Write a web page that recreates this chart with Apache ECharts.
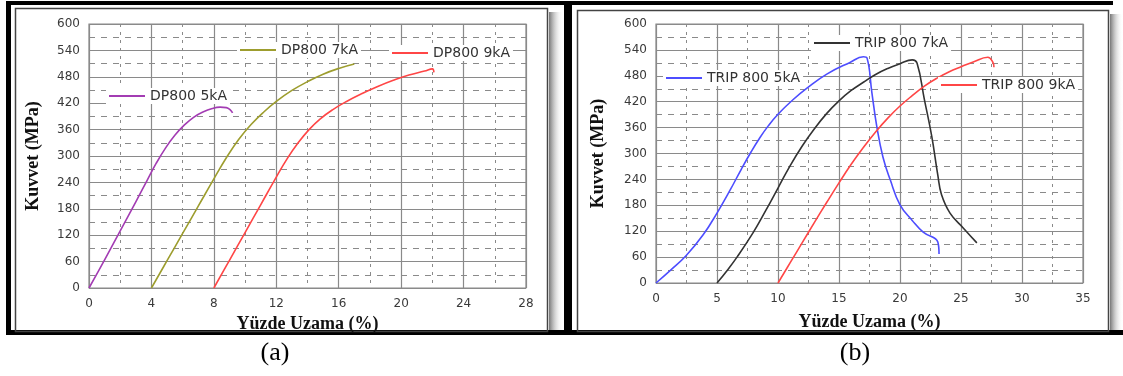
<!DOCTYPE html>
<html>
<head>
<meta charset="utf-8">
<script src="https://cdn.jsdelivr.net/npm/echarts@6/dist/echarts.min.js"></script>
<style>
	html, body { margin: 0; padding: 0; background: #fff; }
	#chart_box { width: 1123px; height: 376px; }
</style>
</head>
<body>
<div id="chart_box"></div>
<script>
/* (a) DP800 curves: [uzama %, kuvvet MPa] */
var dp800_5kA = [[0,0],[1,64],[2,130],[3,196],[3.7,243],[4.3,283],[4.9,318],[5.5,347],[6.1,370],[6.7,388],[7.3,400],[7.9,408],[8.4,411],[8.8,410],[9.05,405],[9.2,398]];
var dp800_7kA = [[4,0],[5,62],[6,124],[7,186],[8,248],[8.8,296],[9.6,338],[10.4,372],[11.2,400],[12,424],[13,449],[14,469],[15,486],[16,499],[17,509]];
var dp800_9kA = [[8,0],[9,63],[10,126],[11,189],[12,252],[12.7,294],[13.4,330],[14.1,360],[14.8,384],[15.6,405],[16.5,424],[17.5,442],[18.5,458],[19.5,472],[20.5,484],[21.5,493],[22,498],[22.1,490]];

/* (b) TRIP 800 curves */
var trip_5kA = [[0,0],[1.2,30],[2.46,63],[3.85,111],[5,162],[6.07,215],[7,264],[7.8,304],[8.5,336],[9.2,364],[10,391],[11.2,424],[12.4,452],[14,484],[15.9,511],[17,524],[17.3,521],[17.7,440],[18.1,362],[18.6,292],[19.2,239],[20,181],[21,145],[21.9,118],[23.1,95],[23.2,67]];
var trip_7kA = [[5,0],[5.8,28],[6.64,60],[7.95,116],[9,168],[10,220],[11,272],[12,318],[13,358],[14,393],[15,422],[16,446],[17,465],[18,483],[19,497],[20,508],[21,517],[21.4,509],[22,425],[22.6,340],[23.1,250],[23.4,205],[24.1,162],[25.2,127],[26.3,93]];
var trip_9kA = [[10,0],[11,47],[12,94],[13,141],[14,187],[15,232],[16,275],[17,314],[18,350],[19,382],[20,410],[21,434],[22,456],[23,474],[24,489],[25,501],[26,512],[27.2,523],[27.6,512],[27.7,500]];

/* eksen ayarlari */
var xRangeA = [0, 28, 4];
var xRangeB = [0, 35, 5];
var yRange = [0, 600, 60];
var namesA = ['DP800 5kA', 'DP800 7kA', 'DP800 9kA'];
var namesB = ['TRIP 800 5kA', 'TRIP 800 7kA', 'TRIP 800 9kA'];
var xTitle = 'Yüzde Uzama (%)';
var yTitle = 'Kuvvet (MPa)';
var captions = ['(a)', '(b)'];

var tickFont = { color: '#3a3a3a', fontFamily: 'DejaVu Sans', fontSize: 12 };
var titleFont = { color: '#111', fontFamily: 'Liberation Serif', fontWeight: 'bold', fontSize: 18 };

function makeX(idx, r, gap) {
	return {
		type: 'value', gridIndex: idx, min: r[0], max: r[1], interval: r[2],
		name: xTitle, nameLocation: 'middle', nameGap: gap, nameTextStyle: titleFont,
		axisLine: { show: false }, axisTick: { show: false },
		axisLabel: Object.assign({ margin: 10 }, tickFont),
		splitLine: { lineStyle: { color: '#8a8a8a', width: 1.2 } },
		minorTick: { show: false, splitNumber: 2 },
		minorSplitLine: { show: true, lineStyle: { color: '#8a8a8a', type: [3, 5], width: 1 } }
	};
}
function makeY(idx, gap) {
	return {
		type: 'value', gridIndex: idx, min: yRange[0], max: yRange[1], interval: yRange[2],
		name: yTitle, nameLocation: 'middle', nameGap: gap, nameTextStyle: titleFont,
		axisLine: { show: false }, axisTick: { show: false },
		axisLabel: Object.assign({ margin: 9 }, tickFont),
		splitLine: { lineStyle: { color: '#8a8a8a', width: 1.2 } },
		minorTick: { show: false, splitNumber: 2 },
		minorSplitLine: { show: true, lineStyle: { color: '#8a8a8a', type: [6, 6], width: 1 } }
	};
}
function makeLine(name, idx, data, color) {
	return {
		name: name, type: 'line', xAxisIndex: idx, yAxisIndex: idx,
		data: data, symbol: 'none', smooth: 0.45,
		lineStyle: { color: color, width: 1.6 }, itemStyle: { color: color }
	};
}
function makeLegend(name, left, top) {
	return {
		data: [name], left: left, top: top, icon: 'rect', itemWidth: 36, itemHeight: 2,
		padding: [1, 3], backgroundColor: '#fff', selectedMode: false,
		textStyle: { color: '#333', fontFamily: 'DejaVu Sans', fontSize: 14 }
	};
}

/* cerceveler */
function frames() {
	var g = [];
	var black = { fill: '#000' };
	g.push({ type: 'rect', shape: { x: 6, y: 1, width: 1107, height: 4 }, style: black });
	g.push({ type: 'rect', shape: { x: 6, y: 1, width: 5, height: 334 }, style: black });
	g.push({ type: 'rect', shape: { x: 6, y: 330, width: 1117, height: 5 }, style: black });
	g.push({ type: 'rect', shape: { x: 564, y: 1, width: 8, height: 334 }, style: black });
	var shade = new echarts.graphic.LinearGradient(0, 0, 1, 0, [
		{ offset: 0, color: '#777' }, { offset: 1, color: 'rgba(255,255,255,0)' }]);
	g.push({ type: 'rect', shape: { x: 549, y: 12, width: 14, height: 318 }, style: { fill: shade } });
	g.push({ type: 'rect', shape: { x: 1110, y: 14, width: 13, height: 316 }, style: { fill: shade } });
	g.push({ type: 'rect', shape: { x: 15.5, y: 8.5, width: 532, height: 323 }, style: { fill: 'none', stroke: '#444', lineWidth: 1.5 } });
	g.push({ type: 'rect', shape: { x: 577.5, y: 10.5, width: 531, height: 321 }, style: { fill: 'none', stroke: '#444', lineWidth: 1.5 } });
	g.push({ type: 'text', x: 275, y: 353, style: { text: captions[0], fill: '#000', font: '26px "Liberation Serif"', align: 'center', verticalAlign: 'middle' } });
	g.push({ type: 'text', x: 855, y: 353, style: { text: captions[1], fill: '#000', font: '26px "Liberation Serif"', align: 'center', verticalAlign: 'middle' } });
	return g;
}

var myChart = echarts.init(document.getElementById('chart_box'), null, { renderer: 'canvas' });
var option = {
	animation: false,
	backgroundColor: '#fff',
	grid: [
		{ left: 89, top: 24, width: 437, height: 264, show: true, borderColor: '#8a8a8a', borderWidth: 1.2 },
		{ left: 656, top: 24, width: 427, height: 259, show: true, borderColor: '#8a8a8a', borderWidth: 1.2 }
	],
	xAxis: [makeX(0, xRangeA, 26), makeX(1, xRangeB, 30)],
	yAxis: [makeY(0, 47), makeY(1, 49)],
	legend: [
		makeLegend(namesA[0], 106, 88),
		makeLegend(namesA[1], 237, 42),
		makeLegend(namesA[2], 389, 45),
		makeLegend(namesB[0], 663, 70),
		makeLegend(namesB[1], 811, 35),
		makeLegend(namesB[2], 938, 77)
	],
	series: [
		makeLine(namesA[0], 0, dp800_5kA, '#a33cb3'),
		makeLine(namesA[1], 0, dp800_7kA, '#9d9d2e'),
		makeLine(namesA[2], 0, dp800_9kA, '#ff4646'),
		makeLine(namesB[0], 1, trip_5kA, '#4d4dff'),
		makeLine(namesB[1], 1, trip_7kA, '#333333'),
		makeLine(namesB[2], 1, trip_9kA, '#ff4646')
	],
	graphic: frames()
};
myChart.setOption(option);
</script>
</body>
</html>
